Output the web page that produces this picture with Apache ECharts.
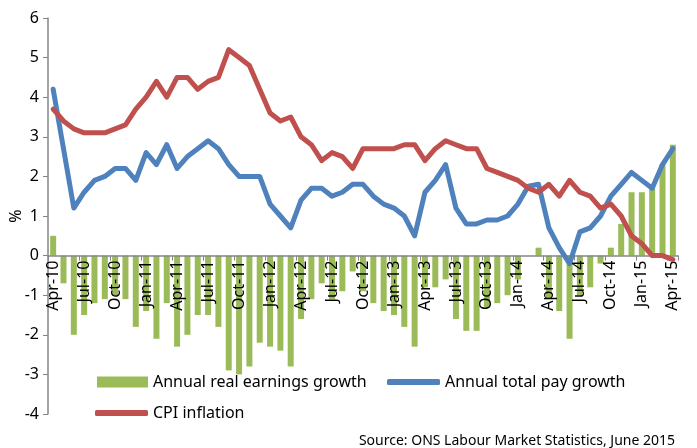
<!DOCTYPE html>
<html>
<head>
<meta charset="utf-8">
<script src="https://cdn.jsdelivr.net/npm/echarts@6/dist/echarts.min.js"></script>
<style>
  html, body { margin: 0; padding: 0; background: #fff; }
  #chart { width: 697px; height: 448px; }
</style>
</head>
<body>
<div id="chart"></div>
<script>
var months = [
  "Apr-10","May-10","Jun-10","Jul-10","Aug-10","Sep-10","Oct-10","Nov-10","Dec-10",
  "Jan-11","Feb-11","Mar-11","Apr-11","May-11","Jun-11","Jul-11","Aug-11","Sep-11","Oct-11","Nov-11","Dec-11",
  "Jan-12","Feb-12","Mar-12","Apr-12","May-12","Jun-12","Jul-12","Aug-12","Sep-12","Oct-12","Nov-12","Dec-12",
  "Jan-13","Feb-13","Mar-13","Apr-13","May-13","Jun-13","Jul-13","Aug-13","Sep-13","Oct-13","Nov-13","Dec-13",
  "Jan-14","Feb-14","Mar-14","Apr-14","May-14","Jun-14","Jul-14","Aug-14","Sep-14","Oct-14","Nov-14","Dec-14",
  "Jan-15","Feb-15","Mar-15","Apr-15"
];

// annual real earnings growth (bars)
var realEarnings = [
  0.5,-0.7,-2.0,-1.5,-1.2,-1.1,-1.0,-1.1,-1.8,
  -1.4,-2.1,-1.2,-2.3,-2.0,-1.5,-1.5,-1.8,-2.9,-3.0,-2.8,-2.2,
  -2.3,-2.4,-2.8,-1.6,-1.1,-0.7,-1.1,-0.9,-0.4,-0.9,-1.2,-1.4,
  -1.5,-1.8,-2.3,-0.8,-0.8,-0.6,-1.6,-1.9,-1.9,-1.3,-1.2,-1.0,
  -0.6,0.0,0.2,-1.1,-1.4,-2.1,-1.0,-0.8,-0.2,0.2,0.8,1.6,
  1.6,1.7,2.3,2.8
];

// annual total pay growth
var totalPay = [
  4.2,2.7,1.2,1.6,1.9,2.0,2.2,2.2,1.9,
  2.6,2.3,2.8,2.2,2.5,2.7,2.9,2.7,2.3,2.0,2.0,2.0,
  1.3,1.0,0.7,1.4,1.7,1.7,1.5,1.6,1.8,1.8,1.5,1.3,
  1.2,1.0,0.5,1.6,1.9,2.3,1.2,0.8,0.8,0.9,0.9,1.0,
  1.3,1.75,1.8,0.7,0.2,-0.2,0.6,0.7,1.0,1.5,1.8,2.1,
  1.9,1.7,2.3,2.7
];

// CPI inflation
var cpi = [
  3.7,3.4,3.2,3.1,3.1,3.1,3.2,3.3,3.7,
  4.0,4.4,4.0,4.5,4.5,4.2,4.4,4.5,5.2,5.0,4.8,4.2,
  3.6,3.4,3.5,3.0,2.8,2.4,2.6,2.5,2.2,2.7,2.7,2.7,
  2.7,2.8,2.8,2.4,2.7,2.9,2.8,2.7,2.7,2.2,2.1,2.0,
  1.9,1.7,1.6,1.8,1.5,1.9,1.6,1.5,1.2,1.3,1.0,0.5,
  0.3,0.0,0.0,-0.1
];

var yMin = -4, yMax = 6;
var gridTop = 18, gridBottom = 34, chartH = 448;
var plotH = chartH - gridTop - gridBottom;
// move the category axis up to the zero line
var zeroOffset = -plotH * (0 - yMin) / (yMax - yMin);

var font = "Noto Sans";
var chart = echarts.init(document.getElementById("chart"));

var option = {
  backgroundColor: "#fff",
  animation: false,
  textStyle: { fontFamily: font },
  grid: { left: 48, right: 19, top: gridTop, bottom: gridBottom, containLabel: false, outerBoundsMode: "none" },
  title: {
    text: "Source: ONS Labour Market Statistics, June 2015",
    right: 22,
    bottom: 0,
    padding: 0,
    textStyle: { fontFamily: font, fontSize: 14, fontWeight: "normal", color: "#000" }
  },
  legend: [
    {
      left: 97, top: 374, padding: 0,
      itemWidth: 51, itemHeight: 11,
      data: [{ name: "Annual real earnings growth", icon: "rect" }],
      textStyle: { fontFamily: font, fontSize: 16, color: "#000" }
    },
    {
      left: 387, top: 374, padding: 0,
      itemWidth: 53, itemHeight: 6,
      data: [{ name: "Annual total pay growth", icon: "roundRect" }],
      textStyle: { fontFamily: font, fontSize: 16, color: "#000" }
    },
    {
      left: 95, top: 405, padding: 0,
      itemWidth: 53, itemHeight: 6,
      data: [{ name: "CPI inflation", icon: "roundRect" }],
      textStyle: { fontFamily: font, fontSize: 16, color: "#000" }
    }
  ],
  xAxis: {
    type: "category",
    data: months,
    boundaryGap: true,
    position: "bottom",
    offset: zeroOffset,
    z: 3,
    axisLine: { onZero: false, lineStyle: { color: "#868686", width: 1.5 } },
    axisTick: { show: true, interval: 2, length: 5, lineStyle: { color: "#868686" } },
    axisLabel: { interval: 2, rotate: 90, fontSize: 16, color: "#000", margin: 5 }
  },
  yAxis: {
    type: "value",
    min: yMin,
    max: yMax,
    interval: 1,
    name: "%",
    nameLocation: "middle",
    nameRotate: 90,
    nameGap: 24,
    nameMoveOverlap: false,
    nameTextStyle: { fontSize: 16, color: "#000" },
    splitLine: { show: false },
    axisLine: { show: true, lineStyle: { color: "#868686", width: 1.5 } },
    axisTick: { show: true, length: 5, lineStyle: { color: "#868686" } },
    axisLabel: { fontSize: 16, color: "#000", margin: 9 }
  },
  series: [
    {
      name: "Annual real earnings growth",
      type: "bar",
      data: realEarnings,
      barWidth: 6,
      itemStyle: { color: "#9BBB59" },
      z: 2
    },
    {
      name: "Annual total pay growth",
      type: "line",
      data: totalPay,
      symbol: "none",
      z: 5,
      itemStyle: { color: "#4F81BD" },
      lineStyle: { color: "#4F81BD", width: 5, cap: "round", join: "round" }
    },
    {
      name: "CPI inflation",
      type: "line",
      data: cpi,
      symbol: "none",
      z: 5,
      itemStyle: { color: "#C0504D" },
      lineStyle: { color: "#C0504D", width: 5, cap: "round", join: "round" }
    }
  ]
};

chart.setOption(option);
</script>
</body>
</html>
